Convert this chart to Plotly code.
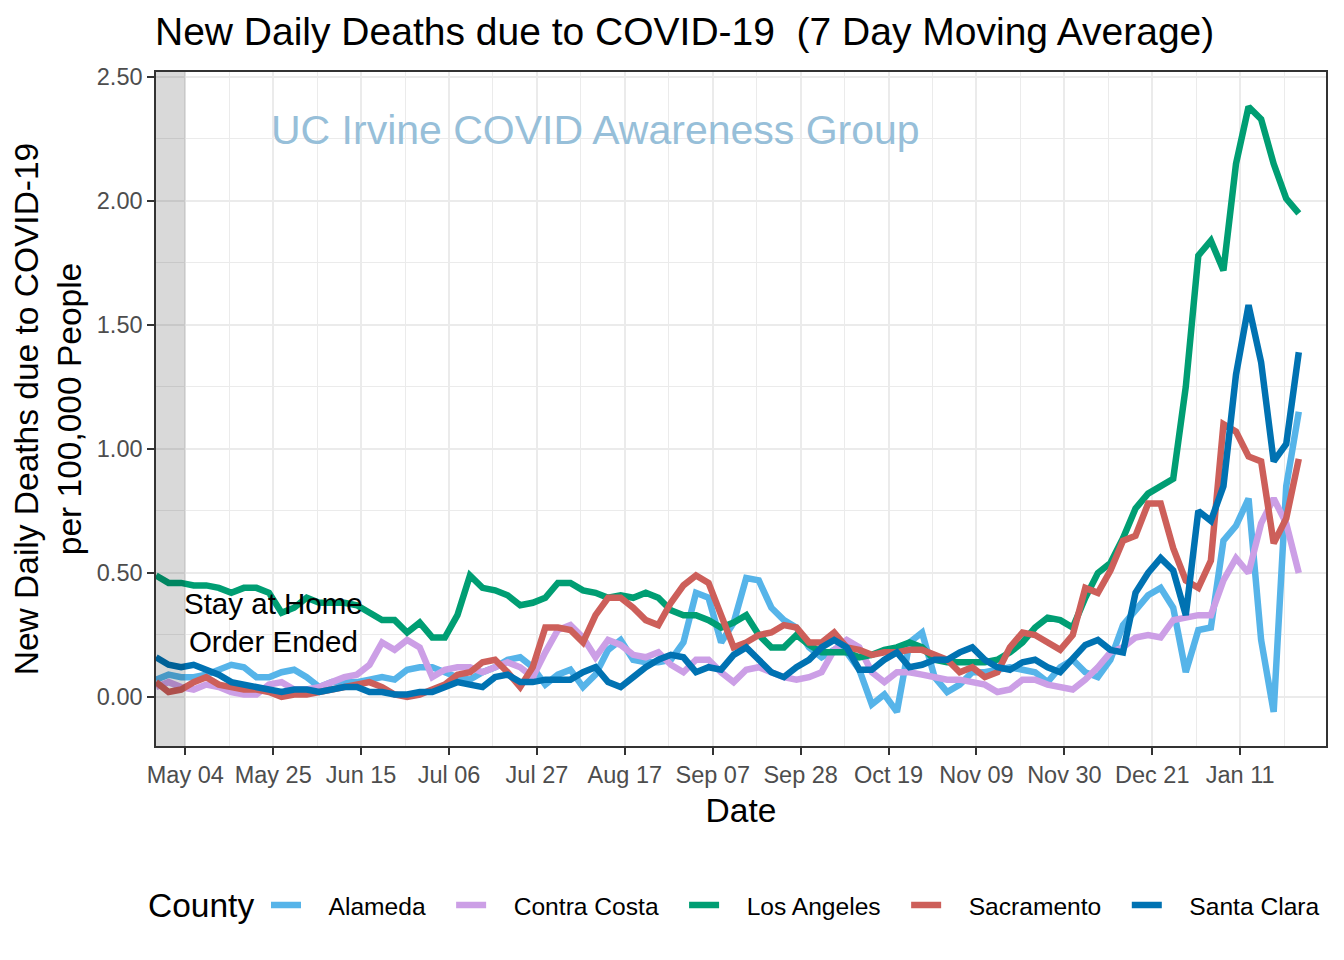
import pandas as pd
import plotly.graph_objects as go

# Dates: every 3 days from 2020-04-27 to 2021-01-25
dates = pd.date_range("2020-04-27", periods=92, freq="3D")

alameda = [0.07, 0.09, 0.08, 0.08, 0.09, 0.11, 0.13, 0.12, 0.08, 0.08,
           0.10, 0.11, 0.08, 0.04, 0.06, 0.06, 0.06, 0.07, 0.08, 0.07,
           0.11, 0.12, 0.12, 0.10, 0.08, 0.07, 0.10, 0.12, 0.15, 0.16,
           0.12, 0.05, 0.09, 0.11, 0.04, 0.09, 0.19, 0.23, 0.15, 0.14,
           0.14, 0.15, 0.22, 0.42, 0.40, 0.22, 0.30, 0.48, 0.47, 0.36,
           0.31, 0.28, 0.20, 0.16, 0.19, 0.18, 0.11, -0.03, 0.01, -0.06,
           0.22, 0.26, 0.08, 0.02, 0.05, 0.10, 0.10, 0.11, 0.12, 0.11,
           0.10, 0.06, 0.12, 0.15, 0.10, 0.08, 0.15, 0.29, 0.35, 0.41,
           0.44, 0.36, 0.10, 0.27, 0.28, 0.63, 0.69, 0.80, 0.23, -0.06,
           0.85, 1.15]

contra_costa = [0.04, 0.06, 0.04, 0.03, 0.05, 0.04, 0.02, 0.01, 0.01, 0.05,
                0.06, 0.03, 0.03, 0.04, 0.06, 0.08, 0.09, 0.13, 0.22, 0.19,
                0.23, 0.20, 0.08, 0.11, 0.12, 0.12, 0.10, 0.12, 0.14, 0.12,
                0.08, 0.18, 0.27, 0.29, 0.24, 0.16, 0.23, 0.21, 0.17, 0.16,
                0.18, 0.13, 0.10, 0.15, 0.15, 0.10, 0.06, 0.11, 0.12, 0.10,
                0.08, 0.07, 0.08, 0.10, 0.19, 0.23, 0.20, 0.10, 0.06, 0.10,
                0.10, 0.09, 0.08, 0.07, 0.07, 0.06, 0.05, 0.02, 0.03, 0.07,
                0.07, 0.05, 0.04, 0.03, 0.07, 0.12, 0.18, 0.20, 0.24, 0.25,
                0.24, 0.31, 0.32, 0.33, 0.33, 0.47, 0.56, 0.50, 0.70, 0.80,
                0.70, 0.50]

los_angeles = [0.49, 0.46, 0.46, 0.45, 0.45, 0.44, 0.42, 0.44, 0.44, 0.42,
               0.34, 0.36, 0.40, 0.38, 0.38, 0.38, 0.37, 0.34, 0.31, 0.31,
               0.26, 0.30, 0.24, 0.24, 0.33, 0.49, 0.44, 0.43, 0.41, 0.37,
               0.38, 0.40, 0.46, 0.46, 0.43, 0.42, 0.40, 0.41, 0.40, 0.42,
               0.40, 0.35, 0.33, 0.33, 0.31, 0.28, 0.30, 0.33, 0.25, 0.20,
               0.20, 0.25, 0.21, 0.18, 0.18, 0.18, 0.16, 0.17, 0.19, 0.20,
               0.22, 0.20, 0.15, 0.14, 0.14, 0.14, 0.14, 0.15, 0.18, 0.22,
               0.28, 0.32, 0.31, 0.28, 0.40, 0.50, 0.54, 0.64, 0.76, 0.82,
               0.85, 0.88, 1.25, 1.78, 1.84, 1.72, 2.15, 2.38, 2.33, 2.15,
               2.01, 1.95]

sacramento = [0.06, 0.02, 0.03, 0.06, 0.08, 0.05, 0.04, 0.03, 0.03, 0.02,
              0.00, 0.01, 0.01, 0.02, 0.03, 0.04, 0.05, 0.06, 0.04, 0.01,
              0.00, 0.01, 0.03, 0.05, 0.09, 0.10, 0.14, 0.15, 0.10, 0.04,
              0.12, 0.28, 0.28, 0.27, 0.22, 0.33, 0.40, 0.40, 0.36, 0.31,
              0.29, 0.38, 0.45, 0.49, 0.46, 0.33, 0.20, 0.22, 0.25, 0.26,
              0.29, 0.28, 0.22, 0.22, 0.26, 0.20, 0.19, 0.17, 0.18, 0.18,
              0.19, 0.19, 0.17, 0.15, 0.10, 0.12, 0.08, 0.10, 0.20, 0.26,
              0.25, 0.22, 0.19, 0.25, 0.44, 0.42, 0.51, 0.63, 0.65, 0.78,
              0.78, 0.60, 0.47, 0.44, 0.55, 1.10, 1.07, 0.97, 0.95, 0.62,
              0.72, 0.96]

santa_clara = [0.16, 0.13, 0.12, 0.13, 0.11, 0.09, 0.06, 0.05, 0.04, 0.03,
               0.02, 0.03, 0.03, 0.02, 0.03, 0.04, 0.04, 0.02, 0.02, 0.01,
               0.01, 0.02, 0.02, 0.04, 0.06, 0.05, 0.04, 0.08, 0.09, 0.06,
               0.06, 0.07, 0.07, 0.07, 0.10, 0.12, 0.06, 0.04, 0.08, 0.12,
               0.15, 0.17, 0.16, 0.10, 0.12, 0.11, 0.17, 0.20, 0.15, 0.10,
               0.08, 0.12, 0.15, 0.20, 0.23, 0.20, 0.11, 0.11, 0.15, 0.18,
               0.12, 0.13, 0.15, 0.15, 0.18, 0.20, 0.15, 0.12, 0.11, 0.14,
               0.15, 0.12, 0.10, 0.16, 0.21, 0.23, 0.19, 0.18, 0.42, 0.50,
               0.56, 0.51, 0.33, 0.75, 0.71, 0.85, 1.30, 1.58, 1.35, 0.95,
               1.02, 1.39]

counties = ["Alameda", "Contra Costa", "Los Angeles", "Sacramento", "Santa Clara"]
series = [alameda, contra_costa, los_angeles, sacramento, santa_clara]
colors = ["#56B4E9", "#CC9FE6", "#009E73", "#CD5F5A", "#0072B2"]

FONT = "Liberation Sans, Arial, sans-serif"
LEAD = "&nbsp;" * 3 + "&#8202;"
TRAIL = "&nbsp;" * 3

fig = go.Figure()
for i, (name, vals, col) in enumerate(zip(counties, series, colors)):
    label = LEAD + name + (TRAIL if i < len(counties) - 1 else "")
    fig.add_trace(go.Scatter(x=dates, y=vals, mode="lines", name=label,
                             line=dict(color=col, width=6.5)))

x_start = "2020-04-27"
x_end = "2021-01-31 12:00"

fig.add_shape(type="rect", xref="x", yref="paper", x0=x_start, x1="2020-05-04",
              y0=0, y1=1, fillcolor="rgba(0,0,0,0.15)", line=dict(width=0),
              layer="above")

fig.add_annotation(x=0.3756, xref="paper", y=2.286, yref="y",
                   text="UC Irvine COVID Awareness Group", showarrow=False,
                   font=dict(family=FONT, size=41, color="#97bfd9"),
                   xanchor="center", yanchor="middle")
fig.add_annotation(x="2020-05-25", xref="x", y=0.30, yref="y",
                   text="Stay at Home<br>Order Ended", showarrow=False,
                   font=dict(family=FONT, size=29.5, color="black"),
                   align="center", xanchor="center", yanchor="middle")
# legend title placed as text so it lines up with the legend entries
fig.add_annotation(x=(146 - 156) / 1170, xref="paper", y=(746 - 905) / 674,
                   yref="paper", text="County", showarrow=False,
                   font=dict(family=FONT, size=33.5, color="black"),
                   xanchor="left", yanchor="middle")

fig.update_layout(
    width=1344, height=960,
    margin=dict(l=156, r=18, t=72, b=214),
    paper_bgcolor="white", plot_bgcolor="white",
    font=dict(family=FONT, color="black"),
    title=dict(text="New Daily Deaths due to COVID-19  (7 Day Moving Average)",
               x=155 / 1344, xref="container", xanchor="left",
               y=1 - 31 / 960, yref="container", yanchor="middle",
               font=dict(family=FONT, size=39, color="black")),
    legend=dict(orientation="h", xref="container", yref="container",
                x=266 / 1344, xanchor="left", y=1 - 905 / 960, yanchor="middle",
                font=dict(size=24.6, color="black")),
    showlegend=True,
)

fig.update_xaxes(
    type="date", range=[x_start, x_end],
    tick0="2020-05-04", dtick=21 * 24 * 3600 * 1000, tickformat="%b %d",
    ticks="outside", ticklen=7, tickwidth=2, tickcolor="#333333",
    tickfont=dict(size=23.5, color="#4d4d4d"),
    showgrid=True, gridcolor="#ebebeb", gridwidth=2,
    minor=dict(dtick=10.5 * 24 * 3600 * 1000, tick0="2020-05-04",
               showgrid=True, gridcolor="#ebebeb", gridwidth=1),
    showline=True, linecolor="#333333", linewidth=1.5, mirror=True,
    zeroline=False,
    title=dict(text="Date", font=dict(size=33.5, color="black"), standoff=12),
)
fig.update_yaxes(
    range=[-0.1976, 2.52],
    tickvals=[0, 0.5, 1.0, 1.5, 2.0, 2.5], tickformat=".2f",
    ticks="outside", ticklen=7, tickwidth=2, tickcolor="#333333",
    tickfont=dict(size=23.5, color="#4d4d4d"),
    showgrid=True, gridcolor="#ebebeb", gridwidth=2,
    minor=dict(tickvals=[-0.25, 0.25, 0.75, 1.25, 1.75, 2.25],
               showgrid=True, gridcolor="#ebebeb", gridwidth=1),
    showline=True, linecolor="#333333", linewidth=1.5, mirror=True,
    zeroline=False,
    title=dict(text="New Daily Deaths due to COVID-19<br>per 100,000 People",
               font=dict(size=33.5, color="black"), standoff=5),
)

fig.write_html("out.html")
